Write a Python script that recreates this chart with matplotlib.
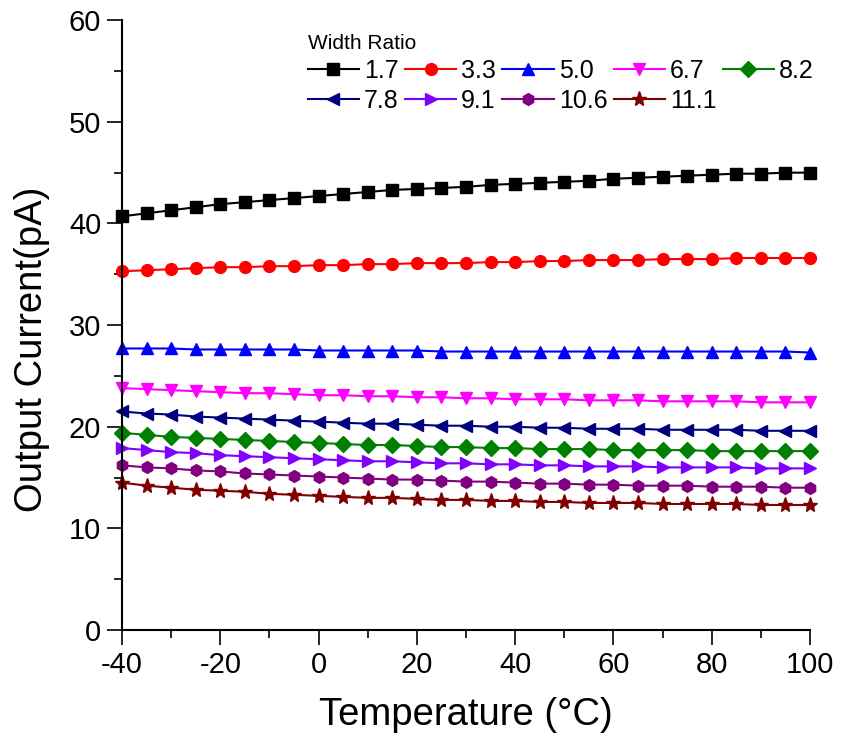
import matplotlib
matplotlib.use("Agg")
import matplotlib.pyplot as plt
import numpy as np
from matplotlib.ticker import MultipleLocator

plt.rcParams['font.family'] = ['Liberation Sans', 'DejaVu Sans']
plt.rcParams['axes.unicode_minus'] = False

temperature = list(range(-40, 101, 5))
labels = ["1.7", "3.3", "5.0", "6.7", "8.2", "7.8", "9.1", "10.6", "11.1"]
colors = ["black", "red", "blue", "magenta", "green", "navy", "#8000ff", "purple", "maroon"]
markers = ["s", "o", "^", "v", "D", "<", ">", "h", "*"]

s_1_7 = [40.7, 41.0, 41.3, 41.6, 41.9, 42.1, 42.3, 42.5, 42.7, 42.9, 43.1, 43.3, 43.4, 43.5, 43.6,
         43.8, 43.9, 44.0, 44.1, 44.2, 44.4, 44.5, 44.6, 44.7, 44.8, 44.9, 44.9, 45.0, 45.0]
s_3_3 = [35.3, 35.4, 35.5, 35.6, 35.7, 35.7, 35.8, 35.8, 35.9, 35.9, 36.0, 36.0, 36.1, 36.1, 36.1,
         36.2, 36.2, 36.3, 36.3, 36.4, 36.4, 36.4, 36.5, 36.5, 36.5, 36.6, 36.6, 36.6, 36.6]
s_5_0 = [27.7, 27.7, 27.7, 27.6, 27.6, 27.6, 27.6, 27.6, 27.5, 27.5, 27.5, 27.5, 27.5, 27.4, 27.4,
         27.4, 27.4, 27.4, 27.4, 27.4, 27.4, 27.4, 27.4, 27.4, 27.4, 27.4, 27.4, 27.4, 27.3]
s_6_7 = [23.8, 23.7, 23.6, 23.5, 23.4, 23.3, 23.3, 23.2, 23.1, 23.1, 23.0, 23.0, 22.9, 22.9, 22.8,
         22.8, 22.7, 22.7, 22.7, 22.6, 22.6, 22.6, 22.5, 22.5, 22.5, 22.5, 22.4, 22.4, 22.4]
s_8_2 = [19.4, 19.2, 19.0, 18.9, 18.8, 18.7, 18.6, 18.5, 18.4, 18.3, 18.2, 18.2, 18.1, 18.0, 18.0,
         17.9, 17.9, 17.8, 17.8, 17.8, 17.7, 17.7, 17.7, 17.7, 17.6, 17.6, 17.6, 17.6, 17.6]
s_7_8 = [21.5, 21.3, 21.2, 21.0, 20.9, 20.8, 20.7, 20.6, 20.5, 20.4, 20.3, 20.3, 20.2, 20.1, 20.1,
         20.0, 20.0, 19.9, 19.9, 19.8, 19.8, 19.8, 19.7, 19.7, 19.7, 19.7, 19.6, 19.6, 19.6]
s_9_1 = [17.9, 17.7, 17.5, 17.4, 17.2, 17.1, 17.0, 16.9, 16.8, 16.7, 16.6, 16.6, 16.5, 16.4, 16.4,
         16.3, 16.3, 16.2, 16.2, 16.1, 16.1, 16.1, 16.0, 16.0, 16.0, 16.0, 15.9, 15.9, 15.9]
s_10_6 = [16.2, 16.0, 15.9, 15.7, 15.6, 15.4, 15.3, 15.2, 15.1, 15.0, 14.9, 14.8, 14.8, 14.7, 14.6,
          14.6, 14.5, 14.4, 14.4, 14.3, 14.3, 14.2, 14.2, 14.2, 14.1, 14.1, 14.1, 14.0, 14.0]
s_11_1 = [14.5, 14.2, 14.0, 13.8, 13.7, 13.6, 13.4, 13.3, 13.2, 13.1, 13.0, 13.0, 12.9, 12.8, 12.8,
          12.7, 12.7, 12.6, 12.6, 12.5, 12.5, 12.5, 12.4, 12.4, 12.4, 12.4, 12.3, 12.3, 12.3]

series = [s_1_7, s_3_3, s_5_0, s_6_7, s_8_2, s_7_8, s_9_1, s_10_6, s_11_1]

fig = plt.figure(figsize=(8.61, 7.49), dpi=100)
ax = fig.add_axes([0.1417, 0.1589, 0.7991, 0.8141])

handles = []
for y, lab, c, m in zip(series, labels, colors, markers):
    ms = 11 if m == "*" else (8 if m == "D" else 8.5)
    h, = ax.plot(temperature, y, color=c, marker=m, markersize=ms, linewidth=1.5, label=lab,
                 clip_on=False)
    handles.append(h)

ax.set_xlim(-40, 100)
ax.set_ylim(0, 60)
ax.xaxis.set_major_locator(MultipleLocator(20))
ax.xaxis.set_minor_locator(MultipleLocator(10))
ax.yaxis.set_major_locator(MultipleLocator(10))
ax.yaxis.set_minor_locator(MultipleLocator(5))
ax.spines['top'].set_visible(False)
ax.spines['right'].set_visible(False)
ax.spines['left'].set_linewidth(1.5)
ax.spines['bottom'].set_linewidth(1.5)
ax.tick_params(which='major', direction='out', length=11, width=1.2, labelsize=21, pad=4)
ax.tick_params(which='minor', direction='out', length=6, width=1.2)

ax.set_xlabel("Temperature (°C)", fontsize=27.5)
ax.set_ylabel("Output Current(pA)", fontsize=27.5)
ax.xaxis.set_label_coords(0.5, -0.11)
ax.yaxis.set_label_coords(-0.105, 0.46)

order = [0, 5, 1, 6, 2, 7, 3, 8, 4]
leg = ax.legend([handles[i] for i in order], [labels[i] for i in order], ncol=5,
                title="Width Ratio", frameon=False, loc='upper left',
                bbox_to_anchor=(0.27, 0.978), fontsize=18, title_fontsize=15,
                handlelength=2.05, columnspacing=0.25, handletextpad=0.2,
                labelspacing=0.25, borderaxespad=0.0, borderpad=0.0)
leg._legend_box.align = "left"

fig.savefig("out.png", dpi=100)
